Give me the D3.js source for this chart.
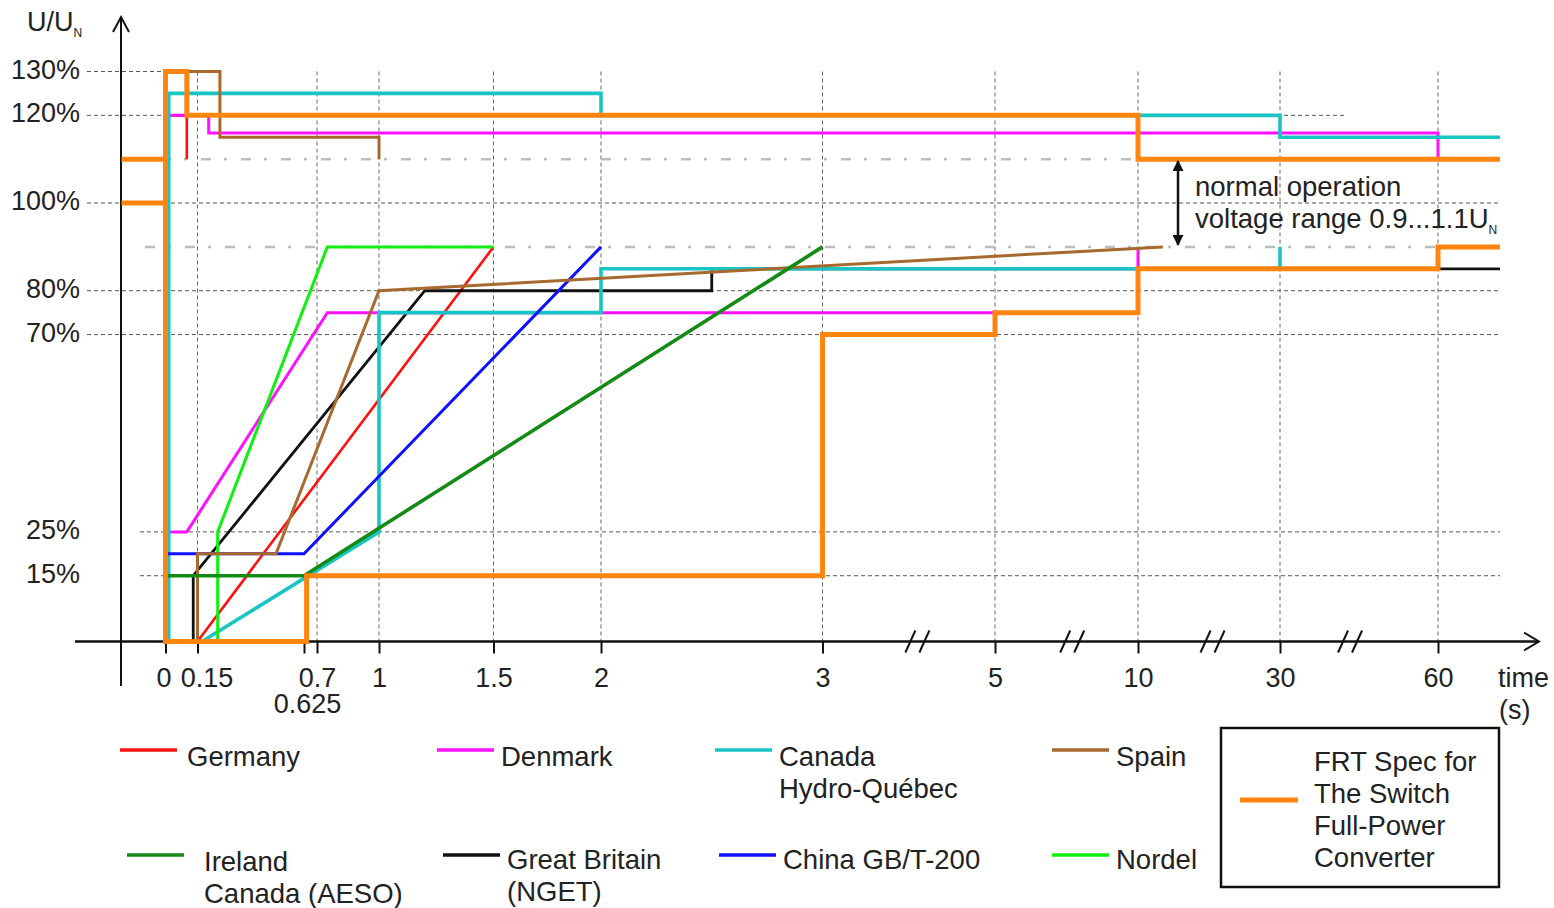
<!DOCTYPE html>
<html>
<head>
<meta charset="utf-8">
<script src="https://cdn.jsdelivr.net/npm/d3@7"></script>
<style>
  html, body { margin: 0; padding: 0; background: #fff; }
  svg { display: block; }
  text { font-family: "Liberation Sans", Arial, sans-serif; fill: #222; }
</style>
</head>
<body>
<svg id="chart" width="1554" height="908"></svg>
<script>
// ---- Fault ride-through envelopes: [time (s), voltage (% of U_N)] ----
const germany   = [[1.5, 90], [0.15, 0], [0, 0], [0, 120], [0.1, 120], [0.1, 110]];
const greatBritain = [[0, 0], [0.13, 0], [0.13, 15], [1.2, 80], [2.5, 80], [2.5, 85], [70, 85]];
const denmark   = [[10, 90], [10, 75], [0.75, 75], [0.1, 25], [0, 25], [0, 120], [0.2, 120], [0.2, 116], [60, 116], [60, 110], [70, 110]];
const hydroQuebec = [[30, 90], [30, 85], [2, 85], [2, 75], [1, 75], [1, 25], [0.17, 0], [0.015, 0], [0.015, 125], [2, 125], [2, 120], [30, 120], [30, 115], [70, 115]];
const china     = [[0, 20], [0.625, 20], [2, 90]];
const nordel    = [[0, 0], [0.24, 0], [0.24, 25], [0.75, 90], [1.5, 90]];
const spain     = [[13.5, 90], [1, 80], [0.5, 20], [0.15, 20], [0.15, 0], [0, 0], [0, 130], [0.25, 130], [0.25, 115], [1, 115], [1, 110]];
const ireland   = [[0, 15], [0.625, 15], [3, 90]];
// The Switch full-power converter specification (drawn as three strokes)
const switchPre110 = [[-0.2, 110], [0, 110]];
const switchPre100 = [[-0.2, 100], [0, 100]];
const switchSpec = [[70, 110], [10, 110], [10, 120], [0.1, 120], [0.1, 130], [0, 130], [0, 0], [0.64, 0], [0.64, 15], [3, 15], [3, 70], [5, 70], [5, 75], [10, 75], [10, 85], [60, 85], [60, 90], [70, 90]];

// ---- Axis ticks ----
const xTickValues = [0, 0.15, 0.625, 0.7, 1, 1.5, 2, 3, 5, 10, 30, 60];
const xTickLabels = ["0", "0.15", "0.625", "0.7", "1", "1.5", "2", "3", "5", "10", "30", "60"];
const xGridValues = [0.15, 0.7, 1, 1.5, 2, 3, 5, 10, 30, 60];
const xBreaks = [4.1, 7.7, 20.5, 43.3];
const yTickValues = [130, 120, 100, 80, 70, 25, 15];
const yTickLabels = ["130%", "120%", "100%", "80%", "70%", "25%", "15%"];
const normalBand  = [110, 90];
const normalLabel = ["normal operation", "voltage range 0.9...1.1U", "N"];

// ---- Legend ----
const legendNames = [
  ["Germany"], ["Denmark"], ["Canada", "Hydro-Québec"], ["Spain"],
  ["Ireland", "Canada (AESO)"], ["Great Britain", "(NGET)"], ["China GB/T-200"], ["Nordel"]
];
const legendColors = ["#ff1010", "#ff10ff", "#18c4c4", "#a8692e", "#158a15", "#111111", "#1010ff", "#10f010"];
const switchName = ["FRT Spec for", "The Switch", "Full-Power", "Converter"];
const switchColor = "#ff8510";

// ---- Layout ----
const svg = d3.select("#chart");
const fontSize = 27;
const legendFont = 27.5;

// broken time axis: piecewise-linear mapping through the labelled instants
const x = d3.scaleLinear()
  .domain([-0.2, 0, 0.15, 0.625, 0.7, 1, 1.5, 2, 3, 5, 10, 30, 60, 70])
  .range([121.5, 165.5, 197.5, 304, 317, 379, 493.5, 601, 822.5, 995, 1138, 1280, 1438, 1500]);
const y = d3.scaleLinear().domain([0, 130]).range([641.5, 71.5]);

const grid = svg.append("g");
// horizontal dashed grid lines
const hGridStart = { 130: 87, 120: 87, 100: 87, 80: 87, 70: 87, 25: 140, 15: 140 };
const hGridEnd = { 130: x(0.25), 120: x(42.5) };
yTickValues.forEach(v => {
  grid.append("line")
    .attr("x1", hGridStart[v]).attr("x2", hGridEnd[v] !== undefined ? hGridEnd[v] : x(70))
    .attr("y1", y(v)).attr("y2", y(v))
    .attr("stroke", "#555").attr("stroke-width", 1).attr("stroke-dasharray", "4,3");
});
// vertical dashed grid lines
xGridValues.forEach(t => {
  grid.append("line")
    .attr("x1", x(t)).attr("x2", x(t))
    .attr("y1", y(130)).attr("y2", y(0))
    .attr("stroke", "#666").attr("stroke-width", 1).attr("stroke-dasharray", "4,3");
});
// dash-dot lines bounding the normal operating band
grid.append("line")
  .attr("x1", 121).attr("x2", x(70)).attr("y1", y(normalBand[0])).attr("y2", y(normalBand[0]))
  .attr("stroke", "#bdbdbd").attr("stroke-width", 2.5).attr("stroke-dasharray", "10,13,3,14");
grid.append("line")
  .attr("x1", 145).attr("x2", x(70)).attr("y1", y(normalBand[1])).attr("y2", y(normalBand[1]))
  .attr("stroke", "#bdbdbd").attr("stroke-width", 2.5).attr("stroke-dasharray", "10,13,3,14");

// ---- Axes ----
const axes = svg.append("g");
// y axis line with open arrow head
axes.append("line").attr("x1", 121).attr("x2", 121).attr("y1", 686).attr("y2", 18)
  .attr("stroke", "#111").attr("stroke-width", 2);
axes.append("path").attr("d", "M113,32 L121,17 L129,32").attr("fill", "none")
  .attr("stroke", "#111").attr("stroke-width", 2);
// x axis line with open arrow head
axes.append("line").attr("x1", 75).attr("x2", 1538).attr("y1", y(0)).attr("y2", y(0))
  .attr("stroke", "#111").attr("stroke-width", 2.5);
axes.append("path").attr("d", `M1524,${y(0) - 9} L1539,${y(0)} L1524,${y(0) + 9}`).attr("fill", "none")
  .attr("stroke", "#111").attr("stroke-width", 2);

const xAxis = d3.axisBottom(x)
  .tickValues(xTickValues)
  .tickFormat((d, i) => xTickLabels[i])
  .tickSizeInner(12).tickSizeOuter(0).tickPadding(14);
const gx = axes.append("g").attr("transform", `translate(0,${y(0)})`).call(xAxis);
gx.select(".domain").remove();
gx.selectAll(".tick line").attr("stroke", "#111").attr("stroke-width", 2);
gx.selectAll(".tick text")
  .attr("font-size", fontSize).attr("fill", "#222")
  .attr("font-family", "Liberation Sans, Arial, sans-serif")
  .attr("dx", d => d === 0.15 ? 9 : d === 0 ? -2 : d === 0.625 ? 3 : 0)
  .attr("dy", d => d === 0.625 ? "1.68em" : "0.71em");

const yAxis = d3.axisLeft(y)
  .tickValues(yTickValues)
  .tickFormat((d, i) => yTickLabels[i])
  .tickSize(0).tickPadding(6);
const gy = axes.append("g").attr("transform", "translate(86,-2)").call(yAxis);
gy.select(".domain").remove();
gy.selectAll(".tick text").attr("font-size", fontSize).attr("fill", "#222")
  .attr("font-family", "Liberation Sans, Arial, sans-serif");

// axis title U/U_N
const yTitle = svg.append("text").attr("x", 27).attr("y", 31).attr("font-size", fontSize);
yTitle.append("tspan").text("U/U");
yTitle.append("tspan").attr("font-size", 12).attr("dy", 6).text("N");

// time label
svg.append("text").attr("x", 1498).attr("y", 687).attr("font-size", fontSize).text("time");
svg.append("text").attr("x", 1499).attr("y", 719).attr("font-size", fontSize).text("(s)");

// axis break marks
xBreaks.forEach(t => {
  const bx = x(t);
  [-7, 7].forEach(off => {
    axes.append("line")
      .attr("x1", bx + off - 5).attr("y1", y(0) + 11)
      .attr("x2", bx + off + 5).attr("y2", y(0) - 11)
      .attr("stroke", "#111").attr("stroke-width", 2);
  });
});

// ---- Series ----
const line = d3.line().x(d => x(d[0])).y(d => y(d[1]));
const series = [
  { data: germany, color: legendColors[0], w: 2.6 },
  { data: greatBritain, color: legendColors[5], w: 2.8 },
  { data: denmark, color: legendColors[1], w: 3 },
  { data: hydroQuebec, color: legendColors[2], w: 3.6 },
  { data: china, color: legendColors[6], w: 3 },
  { data: nordel, color: legendColors[7], w: 3 },
  { data: spain, color: legendColors[3], w: 3 },
  { data: ireland, color: legendColors[4], w: 3.6 },
  { data: switchPre110, color: switchColor, w: 5 },
  { data: switchPre100, color: switchColor, w: 5 },
  { data: switchSpec, color: switchColor, w: 5 }
];
const plot = svg.append("g");
series.forEach(s => {
  plot.append("path")
    .attr("d", line(s.data))
    .attr("fill", "none")
    .attr("stroke", s.color)
    .attr("stroke-width", s.w)
    .attr("stroke-linejoin", "miter")
    .attr("stroke-linecap", "butt");
});

// ---- Normal operation band annotation ----
const defs = svg.append("defs");
defs.append("marker").attr("id", "tip").attr("viewBox", "0 0 10 10")
  .attr("refX", 9).attr("refY", 5).attr("markerWidth", 13).attr("markerHeight", 11)
  .attr("orient", "auto-start-reverse").attr("markerUnits", "userSpaceOnUse")
  .append("path").attr("d", "M0,0 L10,5 L0,10 Z").attr("fill", "#111");
svg.append("line")
  .attr("x1", 1178).attr("x2", 1178)
  .attr("y1", y(normalBand[0]) + 2).attr("y2", y(normalBand[1]) - 2)
  .attr("stroke", "#111").attr("stroke-width", 2.5)
  .attr("marker-start", "url(#tip)").attr("marker-end", "url(#tip)");
svg.append("text").attr("x", 1195).attr("y", 196).attr("font-size", legendFont).text(normalLabel[0]);
const vr = svg.append("text").attr("x", 1195).attr("y", 228).attr("font-size", legendFont);
vr.append("tspan").text(normalLabel[1]);
vr.append("tspan").attr("font-size", 12).attr("dy", 6).text(normalLabel[2]);

// ---- Legend ----
const legendCols = [120, 437, 715, 1052];
const legendRowShift = [0, 6, 4, 0];
const legendRows = [750, 855];
const legendTextGap = [10, 7, 7, 7];
const legend = svg.append("g");
legendNames.forEach((lines, i) => {
  const col = i % 4, row = Math.floor(i / 4);
  const indent = row === 1 && col === 0;
  const lx = legendCols[col] + (row === 1 ? legendRowShift[col] : 0) + (indent ? 7 : 0);
  const ly = legendRows[row];
  legend.append("line")
    .attr("x1", lx).attr("x2", lx + 57).attr("y1", ly).attr("y2", ly)
    .attr("stroke", legendColors[i]).attr("stroke-width", 3.5);
  const tx = lx + 57 + legendTextGap[col] + (indent ? 10 : 0);
  const t = legend.append("text").attr("x", tx)
    .attr("y", ly + (row === 0 ? 16 : 14) + (indent ? 2 : 0))
    .attr("font-size", legendFont);
  lines.forEach((s, k) => t.append("tspan").attr("x", tx).attr("dy", k === 0 ? 0 : 32).text(s));
});
// boxed entry for The Switch specification
legend.append("rect").attr("x", 1221).attr("y", 728).attr("width", 278).attr("height", 159)
  .attr("fill", "none").attr("stroke", "#111").attr("stroke-width", 2.5);
legend.append("line").attr("x1", 1240).attr("x2", 1298).attr("y1", 800).attr("y2", 800)
  .attr("stroke", switchColor).attr("stroke-width", 5);
const st = legend.append("text").attr("x", 1314).attr("y", 771).attr("font-size", legendFont);
switchName.forEach((s, k) => st.append("tspan").attr("x", 1314).attr("dy", k === 0 ? 0 : 32).text(s));
</script>
</body>
</html>
